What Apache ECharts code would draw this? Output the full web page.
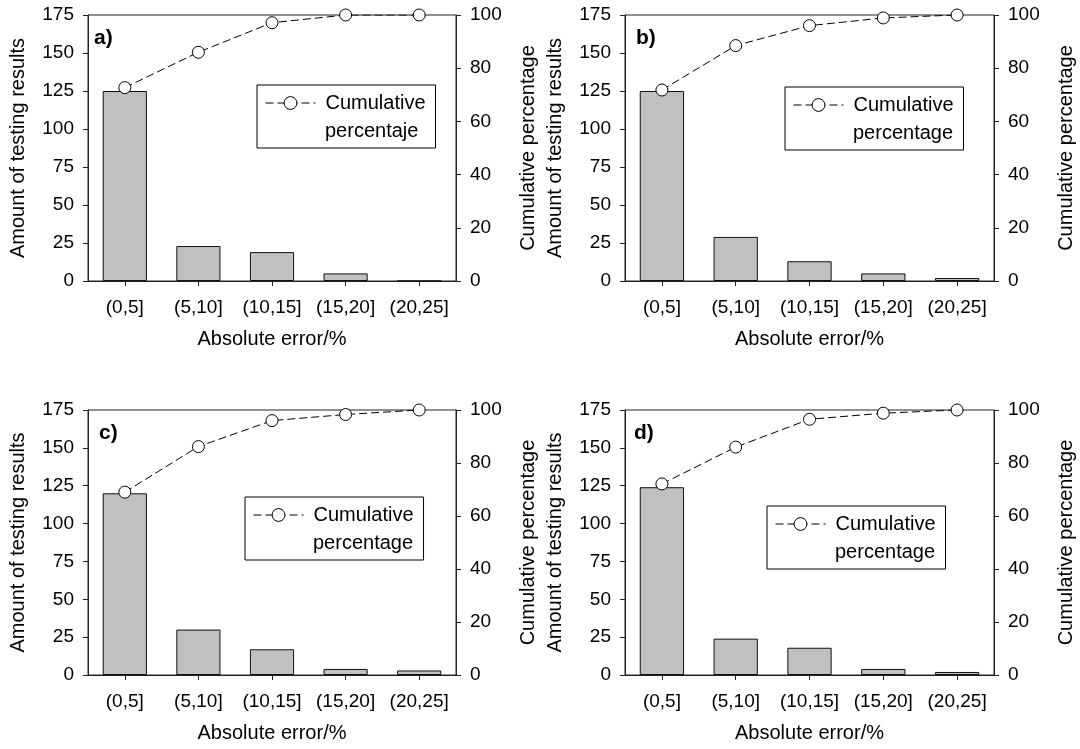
<!DOCTYPE html>
<html>
<head>
<meta charset="utf-8">
<script src="https://cdn.jsdelivr.net/npm/echarts@6/dist/echarts.min.js"></script>
<style>
  html, body { margin: 0; padding: 0; background: #fff; }
  #chart { width: 1080px; height: 749px; }
</style>
</head>
<body>
<div id="chart"></div>
<script>
const categories = ['(0,5]', '(5,10]', '(10,15]', '(15,20]', '(20,25]']

const countsA = [125, 23, 19, 5, 0]
const countsB = [125, 29, 13, 5, 2]
const countsC = [120, 30, 17, 4, 3]
const countsD = [124, 24, 18, 4, 2]

const cumulativeA = [72.7, 86.0, 97.1, 100, 100]
const cumulativeB = [71.8, 88.5, 96.0, 98.9, 100]
const cumulativeC = [69.0, 86.2, 96.0, 98.3, 100]
const cumulativeD = [72.1, 86.0, 96.5, 98.8, 100]

const panelLabels = ['a)', 'b)', 'c)', 'd)']
// legend text: first line goes in the legend item, second line under it
const legendFirst = 'Cumulative'
const legendSecond = ['percentaje', 'percentage', 'percentage', 'percentage']

const COUNT_MAX = 175
const COUNT_STEP = 25
const PERCENT_MAX = 100
const PERCENT_STEP = 20

const FONT = '"Liberation Sans", Arial, Helvetica, sans-serif'
const AXIS_COLOR = '#222'

// layout of the four panels (pixels)
const panels = [
  { counts: countsA, cumulative: cumulativeA, grid: { left: 88, top: 15, width: 368, height: 266 }, label: { left: 94, top: 28 }, legend: { left: 257, top: 85 } },
  { counts: countsB, cumulative: cumulativeB, grid: { left: 625, top: 15, width: 369, height: 266 }, label: { left: 636, top: 28 }, legend: { left: 785, top: 87 } },
  { counts: countsC, cumulative: cumulativeC, grid: { left: 88, top: 410, width: 368, height: 265 }, label: { left: 99, top: 423 }, legend: { left: 245, top: 497 } },
  { counts: countsD, cumulative: cumulativeD, grid: { left: 625, top: 410, width: 369, height: 265 }, label: { left: 634, top: 423 }, legend: { left: 767, top: 506 } }
]

const LEGEND_PAD = [8, 10, 35, 8]
const LEGEND_ICON_W = 50
const LEGEND_TEXT_GAP = 5

function axisCommon() {
  return {
    axisLine: { show: true, lineStyle: { color: AXIS_COLOR, width: 1 } },
    axisTick: { show: true, length: 5, lineStyle: { color: AXIS_COLOR, width: 1 } },
    axisLabel: { color: '#000', fontSize: 19, fontFamily: FONT },
    splitLine: { show: false },
    nameLocation: 'middle',
    nameTextStyle: { color: '#000', fontSize: 20, fontFamily: FONT }
  }
}

const grid = []
const xAxis = []
const yAxis = []
const series = []
const legend = []
const title = []
const graphic = []

panels.forEach((panel, i) => {
  const seriesName = legendFirst + ' ' + legendSecond[i] + ' ' + panelLabels[i]

  grid.push({
    ...panel.grid,
    show: true,
    borderColor: AXIS_COLOR,
    borderWidth: 1,
    backgroundColor: 'transparent'
  })

  const base = axisCommon()
  xAxis.push({
    ...base,
    type: 'category',
    gridIndex: i,
    data: categories,
    axisTick: { ...base.axisTick, alignWithLabel: true },
    axisLabel: { ...base.axisLabel, margin: 17, interval: 0 },
    name: 'Absolute error/%',
    nameGap: 48
  })

  yAxis.push({
    ...axisCommon(),
    type: 'value',
    gridIndex: i,
    position: 'left',
    min: 0,
    max: COUNT_MAX,
    interval: COUNT_STEP,
    axisLabel: { ...base.axisLabel, margin: 14 },
    name: 'Amount of testing results',
    nameGap: 60
  })
  yAxis.push({
    ...axisCommon(),
    type: 'value',
    gridIndex: i,
    position: 'right',
    min: 0,
    max: PERCENT_MAX,
    interval: PERCENT_STEP,
    axisLabel: { ...base.axisLabel, margin: 14 },
    name: 'Cumulative percentage',
    nameGap: 62
  })

  series.push({
    type: 'bar',
    name: 'count ' + panelLabels[i],
    xAxisIndex: i,
    yAxisIndex: i * 2,
    data: panel.counts,
    barWidth: '60%',
    itemStyle: { color: '#c0c0c0', borderColor: '#111', borderWidth: 1 },
    silent: true
  })
  series.push({
    type: 'line',
    name: seriesName,
    xAxisIndex: i,
    yAxisIndex: i * 2 + 1,
    data: panel.cumulative,
    symbol: 'circle',
    symbolSize: 12,
    z: 5,
    itemStyle: { color: '#fff', borderColor: '#000', borderWidth: 1 },
    lineStyle: { color: '#000', width: 1, type: [8, 4] },
    silent: true
  })

  legend.push({
    data: [seriesName],
    formatter: () => legendFirst,
    left: panel.legend.left,
    top: panel.legend.top,
    orient: 'vertical',
    selectedMode: false,
    padding: LEGEND_PAD,
    itemWidth: LEGEND_ICON_W,
    itemHeight: 16,
    borderColor: '#000',
    borderWidth: 1,
    borderRadius: 0,
    backgroundColor: '#fff',
    itemStyle: { color: '#fff', borderColor: '#000', borderWidth: 1 },
    lineStyle: { color: '#000', width: 1, type: [8, 4] },
    textStyle: {
      color: '#000',
      fontSize: 20,
      fontFamily: FONT,
      lineHeight: 20,
      padding: [0, 0, 0, LEGEND_TEXT_GAP]
    }
  })

  // second line of the legend label, inside the legend box
  graphic.push({
    type: 'text',
    z: 100,
    left: panel.legend.left + LEGEND_PAD[3] + LEGEND_ICON_W + LEGEND_TEXT_GAP * 2,
    top: panel.legend.top + LEGEND_PAD[0] + 28,
    style: {
      text: legendSecond[i],
      fill: '#000',
      font: '20px ' + FONT
    }
  })

  title.push({
    text: panelLabels[i],
    left: panel.label.left,
    top: panel.label.top,
    padding: 0,
    textStyle: { color: '#000', fontSize: 21, fontWeight: 'bold', fontFamily: FONT }
  })
})

const chart = echarts.init(document.getElementById('chart'), null, { renderer: 'canvas' })
chart.setOption({
  animation: false,
  backgroundColor: '#fff',
  title,
  grid,
  xAxis,
  yAxis,
  series,
  legend,
  graphic
})
</script>
</body>
</html>
